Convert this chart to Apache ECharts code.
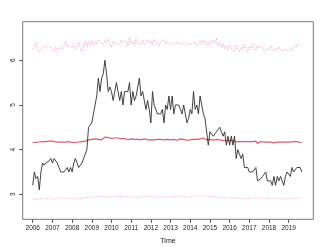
<!DOCTYPE html>
<html>
<head>
<meta charset="utf-8">
<script src="https://cdn.jsdelivr.net/npm/echarts@6/dist/echarts.min.js"></script>
<style>html,body{margin:0;padding:0;background:#fff}#c{width:325px;height:247px}</style>
</head>
<body>
<div id="c"></div>
<script>
var startYear = 2006;
var xTicks = [2006,2007,2008,2009,2010,2011,2012,2013,2014,2015,2016,2017,2018,2019];
var yTicks = [3,4,5,6];

var observed = [
3.2,3.5,3.35,3.4,3.1,3.5,3.7,3.65,3.7,3.7,3.75,3.8,
3.7,3.8,3.8,3.7,3.6,3.5,3.5,3.5,3.55,3.6,3.5,3.6,
3.5,3.7,3.8,3.7,3.6,3.6,3.7,3.8,3.9,4.0,4.5,4.5,
4.6,4.8,5.0,5.2,5.6,5.3,5.6,5.7,6.0,5.7,5.3,5.4,
5.3,5.1,5.1,5.5,5.3,5.1,5.3,5.0,5.3,5.3,5.3,5.5,
5.0,5.3,5.1,5.2,5.4,5.6,5.2,5.3,5.1,4.9,5.1,4.9,
4.6,5.3,5.0,4.9,4.8,4.8,4.8,4.9,4.6,5.0,4.9,5.2,
4.9,5.2,4.8,5.0,5.0,5.0,4.9,4.8,5.0,4.8,4.6,4.7,
4.9,4.8,5.3,4.9,5.0,4.8,5.2,5.0,4.8,4.7,4.7,4.1,
4.4,4.4,4.3,4.35,4.4,4.45,4.5,4.4,4.3,4.4,4.1,4.3,
4.1,4.3,4.1,4.3,3.8,4.0,3.9,3.8,3.9,3.6,3.6,3.6,
3.5,3.5,3.5,3.5,3.6,3.3,3.3,3.35,3.4,3.45,3.5,3.3,
3.3,3.3,3.2,3.4,3.2,3.4,3.3,3.4,3.3,3.2,3.4,3.5,
3.5,3.4,3.6,3.5,3.5,3.6,3.6,3.6,3.5
];

var fitted = [
4.16,4.17,4.16,4.18,4.17,4.18,4.18,4.19,4.18,4.19,4.19,4.18,
4.19,4.18,4.17,4.18,4.17,4.16,4.17,4.19,4.17,4.17,4.18,4.17,
4.16,4.17,4.16,4.15,4.17,4.16,4.18,4.18,4.19,4.20,4.22,4.21,
4.23,4.21,4.24,4.22,4.23,4.25,4.22,4.26,4.28,4.30,4.27,4.26,
4.25,4.23,4.26,4.24,4.26,4.22,4.24,4.23,4.25,4.24,4.22,4.23,
4.24,4.22,4.23,4.25,4.23,4.24,4.22,4.23,4.24,4.23,4.22,4.23,
4.22,4.23,4.22,4.24,4.23,4.22,4.23,4.21,4.22,4.24,4.23,4.25,
4.22,4.24,4.23,4.22,4.21,4.23,4.24,4.22,4.23,4.22,4.21,4.23,
4.22,4.24,4.23,4.25,4.23,4.22,4.24,4.23,4.26,4.24,4.22,4.21,
4.23,4.22,4.21,4.22,4.23,4.21,4.22,4.21,4.20,4.21,4.20,4.21,
4.20,4.19,4.20,4.19,4.18,4.19,4.18,4.19,4.18,4.17,4.18,4.19,
4.18,4.17,4.18,4.17,4.19,4.14,4.17,4.18,4.16,4.17,4.16,4.17,
4.16,4.17,4.16,4.15,4.16,4.17,4.16,4.17,4.18,4.17,4.18,4.17,
4.18,4.17,4.19,4.18,4.20,4.18,4.17,4.16,4.16
];

var upper = [
6.25,6.28,6.40,6.22,6.17,6.24,6.28,6.30,6.27,6.31,6.29,6.30,
6.32,6.18,6.30,6.22,6.26,6.31,6.24,6.28,6.42,6.30,6.26,6.33,
6.28,6.36,6.24,6.32,6.40,6.28,6.20,6.35,6.44,6.30,6.42,6.34,
6.45,6.33,6.42,6.36,6.47,6.40,6.44,6.35,6.46,6.40,6.48,6.36,
6.30,6.43,6.46,6.38,6.41,6.35,6.45,6.40,6.37,6.44,6.32,6.50,
6.36,6.44,6.33,6.47,6.38,6.42,6.36,6.45,6.34,6.41,6.46,6.38,
6.43,6.35,6.47,6.40,6.44,6.32,6.42,6.38,6.46,6.36,6.43,6.39,
6.35,6.41,6.38,6.34,6.42,6.37,6.40,6.36,6.38,6.41,6.35,6.39,
6.37,6.40,6.36,6.42,6.33,6.38,6.44,6.37,6.46,6.35,6.40,6.34,
6.43,6.38,6.45,6.39,6.50,6.32,6.40,6.28,6.37,6.25,6.33,6.22,
6.35,6.26,6.30,6.20,6.34,6.24,6.18,6.30,6.22,6.36,6.25,6.19,
6.32,6.24,6.36,6.27,6.21,6.34,6.28,6.24,6.31,6.20,6.26,6.30,
6.23,6.32,6.25,6.20,6.28,6.22,6.30,6.24,6.27,6.21,6.26,6.24,
6.20,6.28,6.22,6.26,6.35,6.30,6.38,6.34,6.30
];

var lower = [
2.90,2.89,2.88,2.90,2.89,2.91,2.90,2.89,2.91,2.90,2.92,2.91,
2.90,2.91,2.89,2.90,2.92,2.90,2.91,2.89,2.92,2.90,2.91,2.93,
2.91,2.92,2.90,2.91,2.89,2.90,2.92,2.93,2.92,2.94,2.93,2.95,
2.94,2.95,2.94,2.96,2.95,2.94,2.95,2.96,2.95,2.94,2.93,2.95,
2.96,2.94,2.95,2.93,2.95,2.94,2.96,2.95,2.94,2.96,2.95,2.94,
2.93,2.95,2.94,2.96,2.93,2.95,2.94,2.93,2.95,2.94,2.96,2.94,
2.95,2.93,2.94,2.95,2.94,2.96,2.93,2.94,2.95,2.93,2.94,2.95,
2.94,2.93,2.95,2.94,2.96,2.94,2.95,2.93,2.94,2.95,2.94,2.93,
2.95,2.94,2.96,2.95,2.97,2.95,2.96,2.98,2.97,2.99,2.96,2.98,
2.95,2.94,2.95,2.93,2.94,2.92,2.93,2.94,2.92,2.93,2.91,2.92,
2.93,2.91,2.92,2.90,2.91,2.89,2.92,2.91,2.90,2.92,2.91,2.90,
2.91,2.92,2.90,2.91,2.93,2.90,2.91,2.89,2.90,2.92,2.90,2.89,
2.91,2.88,2.90,2.89,2.91,2.88,2.90,2.89,2.91,2.90,2.89,2.90,
2.91,2.89,2.90,2.92,2.90,2.91,2.93,2.91,2.90
];

function pairs(arr) {
  return arr.map(function (v, i) { return [startYear + i / 12, v]; });
}

var chart = echarts.init(document.getElementById('c'), null, {renderer: 'canvas'});
var font = 'Liberation Sans, Arial, sans-serif';
chart.setOption({
  animation: false,
  backgroundColor: '#fff',
  grid: {left: 22.7, right: 11.7, top: 21.7, bottom: 27.7, containLabel: false, outerBoundsMode: 'none', show: true, borderColor: '#777', borderWidth: 1, backgroundColor: 'transparent'},
  xAxis: {
    type: 'value', min: 2005.49, max: 2020.25,
    name: 'Time', nameLocation: 'middle', nameGap: 18.5,
    nameTextStyle: {fontFamily: font, fontSize: 7, color: '#222'},
    axisLine: {show: false},
    axisTick: {show: true, inside: false, length: 3.5, customValues: xTicks, lineStyle: {color: '#555', width: 1}},
    axisLabel: {customValues: xTicks, fontFamily: font, fontSize: 6.5, color: '#222', margin: 5.5, formatter: function (v) { return String(v); }},
    splitLine: {show: false}
  },
  yAxis: {
    type: 'value', min: 2.44, max: 6.864,
    name: 'Y', nameLocation: 'middle', nameGap: 18, nameRotate: 90,
    nameTextStyle: {fontFamily: font, fontSize: 7, color: '#222'},
    axisLine: {show: false},
    axisTick: {show: true, inside: false, length: 3.5, customValues: yTicks, lineStyle: {color: '#555', width: 1}},
    axisLabel: {customValues: yTicks, rotate: 90, fontFamily: font, fontSize: 6.5, color: '#222', margin: 6, formatter: function (v) { return String(v); }},
    splitLine: {show: false}
  },
  series: [
    {type: 'line', data: pairs(upper), symbol: 'none', lineStyle: {color: '#f59fb1', width: 0.9, type: [1.2, 1.2]}, silent: true},
    {type: 'line', data: pairs(lower), symbol: 'none', lineStyle: {color: '#f7aabb', width: 0.9, type: [1.2, 1.2]}, silent: true},
    {type: 'line', data: pairs(fitted), symbol: 'none', lineStyle: {color: '#e2566c', width: 1.2}, silent: true},
    {type: 'line', data: pairs(observed), symbol: 'none', lineStyle: {color: '#2e2e2e', width: 0.9}, silent: true}
  ]
});
</script>
</body>
</html>
